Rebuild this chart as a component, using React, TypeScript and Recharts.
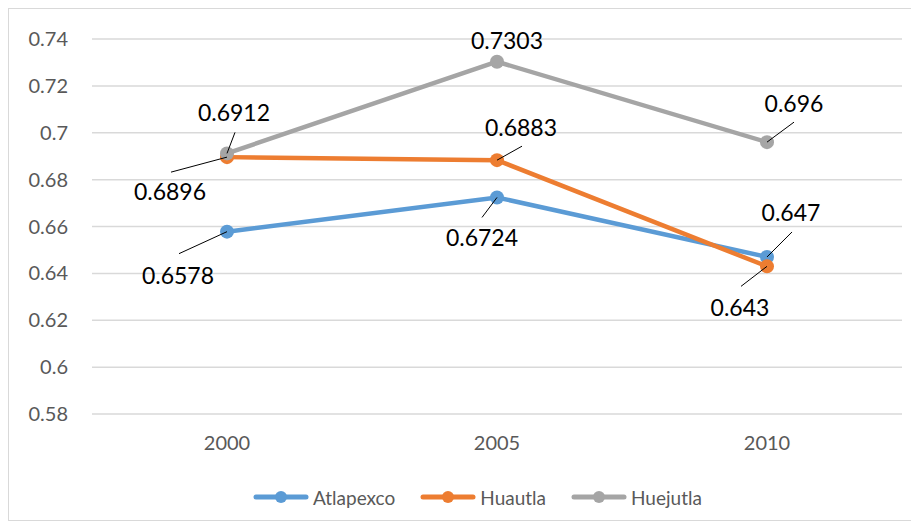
import React from "react"
import { LineChart, Line, XAxis, YAxis, CartesianGrid, Legend, LabelList } from "recharts"

const years = ["2000", "2005", "2010"]
const atlapexco = [0.6578, 0.6724, 0.647]
const huautla = [0.6896, 0.6883, 0.643]
const huejutla = [0.6912, 0.7303, 0.696]
const yTicks = [0.58, 0.6, 0.62, 0.64, 0.66, 0.68, 0.7, 0.72, 0.74]

const data = years.map((year, i) => ({
  year,
  Atlapexco: atlapexco[i],
  Huautla: huautla[i],
  Huejutla: huejutla[i],
}))

// label placement around each point: text centre (dx, dy) and end of the leader line (lx, ly)
type Place = { dx: number; dy: number; lx?: number; ly?: number }
const placements: Record<string, Place[]> = {
  Atlapexco: [
    { dx: -49, dy: 44, lx: -48, ly: 22 },
    { dx: -15, dy: 40, lx: -15, ly: 20 },
    { dx: 24, dy: -44, lx: 25, ly: -25 },
  ],
  Huautla: [
    { dx: -57, dy: 35, lx: -56, ly: 15 },
    { dx: 24, dy: -32, lx: 25, ly: -14 },
    { dx: -27, dy: 41, lx: -26, ly: 20 },
  ],
  Huejutla: [
    { dx: 7, dy: -41, lx: 8, ly: -21 },
    { dx: 10, dy: -21 },
    { dx: 27, dy: -38, lx: 27, ly: -20 },
  ],
}

const series = [
  { key: "Atlapexco", color: "#5B9BD5" },
  { key: "Huautla", color: "#ED7D31" },
  { key: "Huejutla", color: "#A5A5A5" },
]

const makeLabel = (key: string) => (props: any) => {
  const { x, y, value, index } = props
  const p = placements[key][index]
  if (!p || x == null || y == null) return null
  return (
    <g>
      {p.lx != null && p.ly != null && (
        <line x1={x} y1={y} x2={x + p.lx} y2={y + p.ly} stroke="#000" strokeWidth={1} />
      )}
      <text x={x + p.dx} y={y + p.dy + 8.3} textAnchor="middle" fontSize={23} fill="#000">
        {value}
      </text>
    </g>
  )
}

const LegendContent = () => (
  <div style={{ display: "flex", alignItems: "center", height: 30, fontSize: 19, color: "#595959" }}>
    {series.map((s, i) => (
      <div key={s.key} style={{ display: "flex", alignItems: "center", marginRight: i < series.length - 1 ? 25 : 0 }}>
        <svg width={56} height={14} style={{ marginRight: 4 }}>
          <line x1={3} y1={7} x2={53} y2={7} stroke={s.color} strokeWidth={5} strokeLinecap="round" />
          <circle cx={28} cy={7} r={6} fill={s.color} />
        </svg>
        <span>{s.key}</span>
      </div>
    ))}
  </div>
)

export default function App() {
  return (
    <div style={{ width: 904, height: 511, border: "1px solid #d9d9d9", fontFamily: "Lato, sans-serif" }}>
      <LineChart width={904} height={511} data={data} margin={{ top: 30, right: 11, left: 23, bottom: 8 }}>
        <CartesianGrid vertical={false} stroke="#d9d9d9" strokeWidth={1.5} />
        <XAxis
          dataKey="year"
          axisLine={false}
          tickLine={false}
          padding={{ left: 135, right: 135 }}
          height={68}
          tickMargin={16}
          tick={{ fontSize: 20, fill: "#595959" }}
        />
        <YAxis
          domain={[0.58, 0.74]}
          ticks={yTicks}
          width={60}
          axisLine={false}
          tickLine={false}
          tickMargin={18}
          tick={{ fontSize: 20, fill: "#595959" }}
          tickFormatter={(v: number) => String(v)}
        />
        <Legend
          verticalAlign="bottom"
          content={<LegendContent />}
          wrapperStyle={{ left: 244, width: 460 }}
        />
        {series.map((s) => (
          <Line
            key={s.key}
            dataKey={s.key}
            stroke={s.color}
            strokeWidth={4.5}
            dot={{ r: 7, fill: s.color, stroke: s.color, strokeWidth: 0 }}
            activeDot={false}
            isAnimationActive={false}
          >
            <LabelList dataKey={s.key} content={makeLabel(s.key)} />
          </Line>
        ))}
      </LineChart>
    </div>
  )
}
